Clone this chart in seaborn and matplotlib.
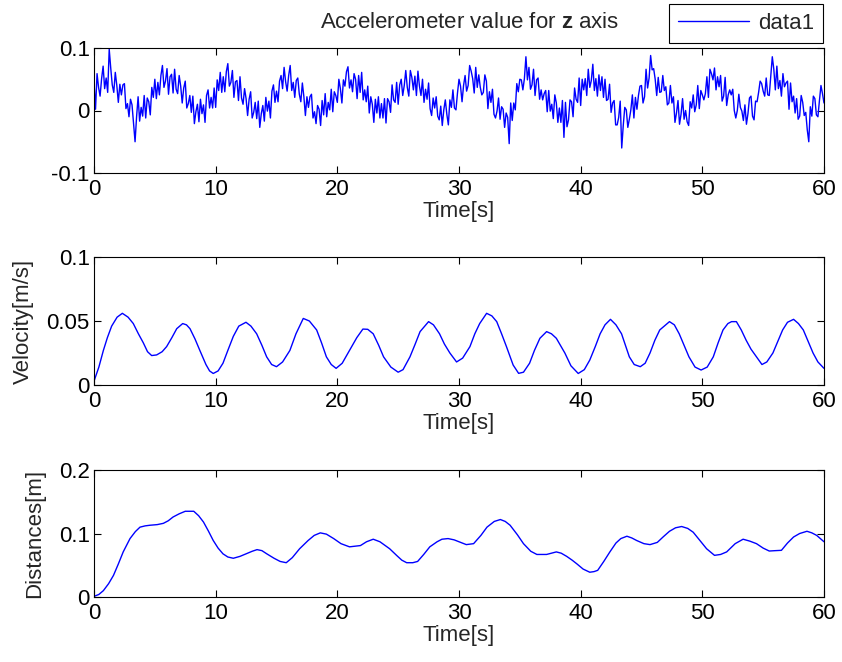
import numpy as np
import pandas as pd
import matplotlib
matplotlib.use("Agg")
import matplotlib.pyplot as plt
import seaborn as sns

# ---------------------------------------------------------------
# Accelerometer z-axis samples (unit: 0.001), sampled every 0.125 s
# ---------------------------------------------------------------
SAMPLE_DT = 0.125

acc_00_10 = [
    46, 2, 59, 37, 23, 51, 71, 35,
    52, 29, 98, 68, 41, 29, 61, 40,
    13, 42, 25, 41, 43, 3, 11, -10,
    18, 9, -21, -50, -10, 22, -17, 5,
    -9, 24, -12, 20, 14, -7, 37, 21,
    50, 19, 45, 25, 56, 72, 37, 47,
    67, 26, 54, 58, 28, 66, 34, 27,
    56, 39, 12, 36, 47, 4, 11, 24,
    -3, 23, -21, -2, 10, -18, 18, -5,
    9, -19, 24, 33, 4, 21, 4, 36,
]
acc_10_20 = [
    5, 49, 32, 61, 29, 54, 30, 62,
    75, 39, 45, 64, 21, 46, 48, 16,
    54, 20, 10, 35, 19, -8, 18, 30,
    -12, -3, 13, -13, 15, -27, -5, 8,
    -17, 21, -1, 15, -12, 31, 41, 13,
    31, 14, 47, 56, 35, 69, 46, 31,
    56, 72, 32, 45, 21, 48, 52, 26,
    14, 44, 22, -8, 22, 5, 22, 26,
    -12, -2, -21, 8, 2, -24, 16, -7,
    27, -10, 13, 1, 34, -2, 30, 24,
]
acc_20_30 = [
    13, 50, 35, 12, 49, 39, 62, 70,
    36, 49, 30, 59, 50, 19, 56, 29,
    61, 17, 33, 14, 39, -4, 22, 10,
    -19, 18, -4, 22, -12, 11, -12, 19,
    -20, 19, 14, -3, 41, 17, 13, 45,
    10, 41, 50, 24, 40, 64, 37, 23,
    64, 53, 33, 55, 24, 63, 39, 24,
    50, 13, 34, 18, 44, 3, -8, 20,
    4, 22, -9, -15, 7, -24, 1, 17,
    -6, -23, 17, 5, 33, 4, 1, 28,
]
acc_30_40 = [
    50, 39, 14, 40, 56, 31, 40, 72,
    63, 51, 28, 69, 37, 57, 37, 25,
    29, 57, 47, 3, 30, 13, 34, -6,
    -12, -1, 20, -14, 6, 2, -27, -4,
    -11, -53, 12, -16, 12, 1, 43, 30,
    50, 49, 33, 51, 86, 49, 69, 34,
    41, 66, 24, 49, 52, 18, 33, 17,
    27, 32, -2, 32, -1, 10, -13, 25,
    12, -19, 4, -19, 16, -43, 13, -26,
    -15, 17, 14, -10, 36, 18, 13, 52,
]
acc_40_50 = [
    8, 50, 33, 51, 24, 66, 37, 48,
    74, 32, 51, 23, 57, 32, 54, 21,
    50, 16, 18, 42, -3, 12, 16, -23,
    -23, -11, 15, -60, -24, 5, 1, -27,
    -14, 1, 25, -12, 21, 2, 24, 39,
    40, 12, 22, 66, 36, 52, 88, 65,
    67, 50, 24, 53, 29, 30, 56, 32,
    38, 9, 12, 40, 12, 22, -19, -4,
    16, -22, -6, 19, -14, 0, -18, -24,
    14, 4, 25, -2, 9, 40, 3, 32,
]
acc_50_60 = [
    25, 17, 27, 54, 21, 66, 59, 49,
    68, 33, 54, 38, 56, 15, 23, 53,
    8, 25, 33, 25, 34, 0, -12, 0,
    26, 5, -1, -16, 9, -22, -5, 20,
    23, -9, -15, 15, 14, 29, 47, 43,
    31, 23, 52, 25, 24, 55, 86, 66,
    33, 71, 35, 48, 23, 59, 38, 44,
    47, 2, 44, 14, 23, -4, 19, -14,
    -9, 24, 13, -8, -3, -31, -50, 6,
    -9, 23, 19, -7, -10, 16, 40, 27,
    12,
]

# ---------------------------------------------------------------
# Integrated velocity [m/s]
# ---------------------------------------------------------------
vel_t = [0, 0.4, 0.77, 1.1, 1.45, 1.9, 2.33, 2.8, 3.23, 3.65, 4.05, 4.4, 4.74,
         5.15, 5.6, 5.97, 6.4, 6.8, 7.29, 7.6, 7.89, 8.3, 8.7, 9.2, 9.5, 9.8,
         10.2, 10.6, 11.0, 11.45, 11.9, 12.49, 12.9, 13.37, 13.8, 14.19, 14.6,
         15.0, 15.5, 16.1, 16.6, 17.2, 17.7, 18.3, 18.7, 19.1, 19.5, 19.9,
         20.4, 21.0, 21.6, 22.1, 22.5, 22.95, 23.4, 23.8, 24.4, 25.0, 25.4,
         25.97, 26.4, 26.8, 27.5, 27.9, 28.4, 28.8, 29.25, 29.8, 30.3, 30.9,
         31.3, 31.7, 32.27, 32.7, 33.1, 33.5, 33.9, 34.45, 34.9, 35.3, 35.8,
         36.2, 36.65, 37.2, 37.6, 38.0, 38.7, 39.2, 39.8, 40.3, 40.75, 41.2,
         41.6, 42.0, 42.45, 42.9, 43.36, 44.0, 44.4, 44.9, 45.3, 45.7, 46.1,
         46.5, 47.3, 47.7, 48.1, 48.5, 48.9, 49.4, 49.9, 50.4, 50.9, 51.3,
         51.7, 52.1, 52.4, 52.8, 53.2, 53.6, 54.0, 54.45, 54.9, 55.3, 55.8,
         56.2, 56.6, 57.0, 57.5, 57.9, 58.3, 58.7, 59.1, 59.5, 60.0]
vel = [0.003, 0.014, 0.027, 0.037, 0.046, 0.053, 0.056, 0.053, 0.048, 0.040,
       0.033, 0.026, 0.023, 0.0235, 0.026, 0.030, 0.037, 0.044, 0.048, 0.047,
       0.044, 0.036, 0.027, 0.016, 0.011, 0.009, 0.011, 0.017, 0.027, 0.038,
       0.046, 0.049, 0.046, 0.040, 0.031, 0.022, 0.016, 0.0143, 0.018, 0.027,
       0.040, 0.052, 0.050, 0.043, 0.033, 0.022, 0.016, 0.013, 0.017, 0.027,
       0.037, 0.0437, 0.0435, 0.040, 0.031, 0.022, 0.014, 0.010, 0.012, 0.022,
       0.032, 0.0417, 0.0495, 0.047, 0.040, 0.032, 0.025, 0.018, 0.021, 0.030,
       0.040, 0.048, 0.056, 0.054, 0.0495, 0.040, 0.030, 0.0156, 0.0091, 0.010,
       0.017, 0.027, 0.0365, 0.0417, 0.040, 0.0365, 0.025, 0.015, 0.009, 0.012,
       0.0195, 0.030, 0.040, 0.047, 0.0513, 0.047, 0.040, 0.022, 0.016, 0.0143,
       0.017, 0.025, 0.035, 0.043, 0.0495, 0.047, 0.040, 0.031, 0.022, 0.014,
       0.0117, 0.014, 0.022, 0.033, 0.043, 0.048, 0.0495, 0.0495, 0.043, 0.035,
       0.028, 0.022, 0.016, 0.018, 0.025, 0.034, 0.043, 0.049, 0.0513, 0.048,
       0.043, 0.034, 0.025, 0.018, 0.013]

# ---------------------------------------------------------------
# Integrated displacement [m]
# ---------------------------------------------------------------
dist_t = [0, 0.4, 0.77, 1.2, 1.6, 2.0, 2.4, 2.96, 3.4, 3.78, 4.2, 4.6, 5.2,
          5.7, 6.1, 6.5, 7.0, 7.5, 8.2, 8.6, 9.0, 9.4, 9.8, 10.2, 10.6, 11.0,
          11.45, 12.0, 12.5, 13.0, 13.4, 13.8, 14.2, 14.8, 15.3, 15.8, 16.3,
          16.9, 17.6, 18.1, 18.6, 19.1, 19.7, 20.3, 21.0, 21.9, 22.4, 22.95,
          23.5, 24.3, 24.9, 25.3, 25.7, 26.2, 26.6, 27.1, 27.6, 28.2, 28.6,
          29.1, 29.6, 30.0, 30.6, 31.2, 31.8, 32.3, 32.9, 33.4, 33.8, 34.2,
          34.8, 35.3, 35.9, 36.4, 37.2, 37.6, 38.0, 38.4, 38.85, 39.3, 39.7,
          40.2, 40.75, 41.1, 41.4, 41.9, 42.4, 42.9, 43.3, 43.8, 44.2, 44.6,
          45.2, 45.7, 46.3, 46.8, 47.3, 47.8, 48.3, 48.8, 49.25, 49.8, 50.35,
          51.0, 51.5, 52.0, 52.7, 53.35, 53.9, 54.45, 55.0, 55.5, 56.0, 56.5,
          57.0, 57.5, 58.0, 58.6, 59.0, 59.4, 60.0]
dist = [0.001, 0.004, 0.010, 0.021, 0.034, 0.052, 0.071, 0.092, 0.103, 0.110,
        0.112, 0.113, 0.114, 0.116, 0.120, 0.126, 0.131, 0.135, 0.135, 0.128,
        0.118, 0.104, 0.089, 0.077, 0.068, 0.063, 0.061, 0.064, 0.068, 0.072,
        0.0746, 0.073, 0.068, 0.061, 0.056, 0.054, 0.062, 0.076, 0.089, 0.097,
        0.101, 0.099, 0.092, 0.084, 0.079, 0.081, 0.087, 0.091, 0.087, 0.076,
        0.065, 0.058, 0.054, 0.054, 0.056, 0.067, 0.079, 0.087, 0.091, 0.092,
        0.090, 0.087, 0.0825, 0.084, 0.097, 0.110, 0.119, 0.122, 0.119, 0.113,
        0.098, 0.084, 0.072, 0.067, 0.067, 0.069, 0.071, 0.069, 0.064, 0.058,
        0.052, 0.044, 0.039, 0.040, 0.042, 0.056, 0.071, 0.085, 0.092, 0.0957,
        0.093, 0.089, 0.084, 0.0825, 0.086, 0.095, 0.1035, 0.109, 0.111, 0.108,
        0.102, 0.089, 0.076, 0.0656, 0.067, 0.071, 0.084, 0.091, 0.088, 0.084,
        0.077, 0.0724, 0.073, 0.0735, 0.085, 0.0945, 0.100, 0.1035, 0.101,
        0.097, 0.087]

# Axis tick values and labels
x_ticks = [0, 10, 20, 30, 40, 50, 60]
x_tick_labels = ["0", "10", "20", "30", "40", "50", "60"]
acc_yticks = [-0.1, 0, 0.1]
acc_ylabels = ["-0.1", "0", "0.1"]
vel_yticks = [0, 0.05, 0.1]
vel_ylabels = ["0", "0.05", "0.1"]
dist_yticks = [0, 0.1, 0.2]
dist_ylabels = ["0", "0.1", "0.2"]

# ---------------------------------------------------------------
acc = np.array(acc_00_10 + acc_10_20 + acc_20_30 + acc_30_40
               + acc_40_50 + acc_50_60, dtype=float) / 1000.0
acc_df = pd.DataFrame({"t": np.arange(len(acc)) * SAMPLE_DT, "a": acc})
vel_df = pd.DataFrame({"t": vel_t, "v": vel})
dist_df = pd.DataFrame({"t": dist_t, "d": dist})

sns.set_style("white")
plt.rcParams["font.family"] = ["Liberation Sans", "DejaVu Sans"]
plt.rcParams["axes.unicode_minus"] = False
plt.rcParams["mathtext.fontset"] = "custom"
plt.rcParams["mathtext.rm"] = "Liberation Sans"
plt.rcParams["mathtext.bf"] = "Liberation Sans:bold"

W, H = 842, 662
fig = plt.figure(figsize=(W / 100, H / 100), dpi=100)
fig.patch.set_facecolor("white")


def px_axes(left, top, right, bottom):
    return fig.add_axes([left / W, 1 - bottom / H, (right - left) / W,
                         (bottom - top) / H])


ax1 = px_axes(94, 48, 824, 173)
ax2 = px_axes(94, 257, 824, 385)
ax3 = px_axes(94, 470, 824, 597)

LINE = "#0000ff"
sns.lineplot(data=acc_df, x="t", y="a", ax=ax1, color=LINE, linewidth=1.0,
             estimator=None, sort=False, label="data1")
sns.lineplot(data=vel_df, x="t", y="v", ax=ax2, color=LINE, linewidth=1.0,
             estimator=None, sort=False)
sns.lineplot(data=dist_df, x="t", y="d", ax=ax3, color=LINE, linewidth=1.0,
             estimator=None, sort=False)


def style(ax, yticks, ylabels, ylim):
    ax.set_facecolor("white")
    ax.set_xlim(0, 60)
    ax.set_ylim(*ylim)
    ax.set_xticks(x_ticks)
    ax.set_xticklabels(x_tick_labels)
    ax.set_yticks(yticks)
    ax.set_yticklabels(ylabels)
    ax.tick_params(axis="both", direction="in", length=5, width=0.8,
                   bottom=True, left=True, top=True, right=True,
                   labelsize=16, colors="black")
    ax.tick_params(axis="x", pad=4)
    ax.tick_params(axis="y", pad=3)
    for s in ax.spines.values():
        s.set_visible(True)
        s.set_color("black")
        s.set_linewidth(0.8)
    ax.set_xlabel("Time[s]", fontsize=16, labelpad=1)
    ax.set_ylabel("")


style(ax1, acc_yticks, acc_ylabels, (-0.1, 0.1))
style(ax2, vel_yticks, vel_ylabels, (0, 0.1))
style(ax3, dist_yticks, dist_ylabels, (0, 0.2))

ax2.set_ylabel("Velocity[m/s]", fontsize=16, labelpad=9)
ax3.set_ylabel("Distances[m]", fontsize=16, labelpad=10)

fig.text(470 / W, 1 - 23 / H, r"Accelerometer value for $\mathbf{z}$ axis",
         ha="center", va="center", fontsize=16)

leg = ax1.legend(loc="upper right", bbox_to_anchor=(823 / W, 1 - 4 / H),
                 bbox_transform=fig.transFigure, borderaxespad=0,
                 frameon=True, fancybox=False, edgecolor="black",
                 framealpha=1, fontsize=16, handlelength=3.2,
                 borderpad=0.4, handletextpad=0.4)
leg.get_frame().set_linewidth(0.8)
for line in leg.get_lines():
    line.set_linewidth(1.0)

fig.savefig("out.png", dpi=100, facecolor="white")
